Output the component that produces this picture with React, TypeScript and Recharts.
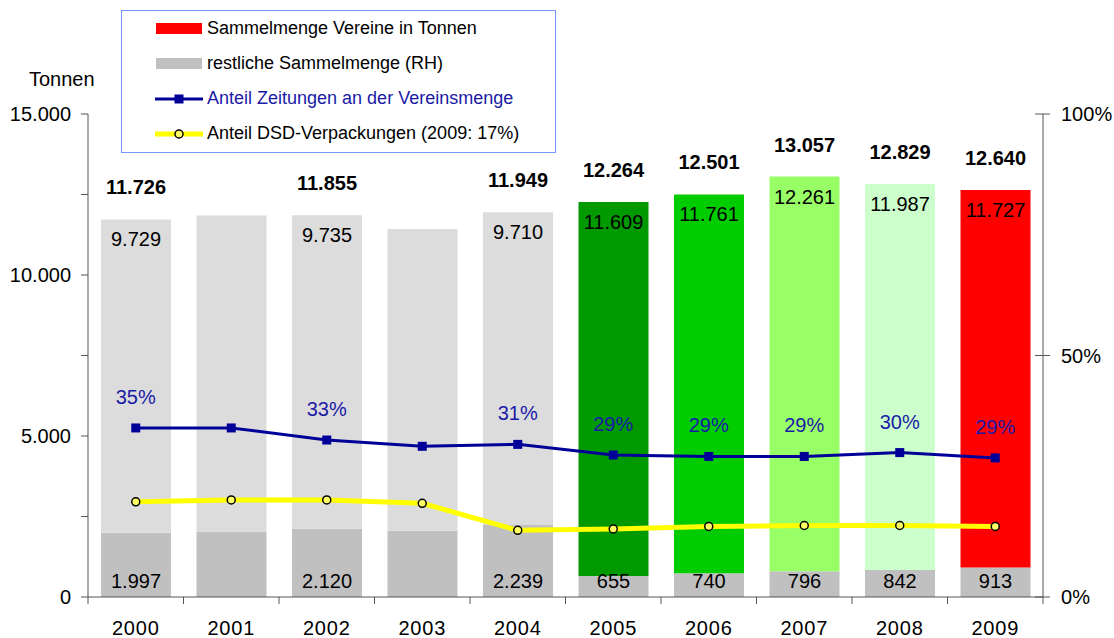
import React from 'react';
import { Bar, Cell, ComposedChart, LabelList, Legend, Line, XAxis, YAxis } from 'recharts';

const FONT = '"Liberation Sans", Arial, Helvetica, sans-serif';
const AXIS = '#555555';
const BLUE = '#000099';
const BLUE_TEXT = '#1a1aa6';

// Sammelmengen in Tonnen
const years = ['2000', '2001', '2002', '2003', '2004', '2005', '2006', '2007', '2008', '2009'];
const restMenge = [1997, 2030, 2120, 2060, 2239, 655, 740, 796, 842, 913];
const vereinsMenge = [9729, 9820, 9735, 9370, 9710, 11609, 11761, 12261, 11987, 11727];
const gesamtMenge = [11726, null, 11855, null, 11949, 12264, 12501, 13057, 12829, 12640];
const beschriftet = [true, false, true, false, true, true, true, true, true, true];
const vereinsFarben = ['#dcdcdc', '#dcdcdc', '#dcdcdc', '#dcdcdc', '#dcdcdc', '#009900', '#00cc00', '#99ff66', '#ccffcc', '#ff0000'];

// Anteile in Prozent (rechte Achse)
const zeitungenAnteil = [35.0, 35.0, 32.5, 31.2, 31.6, 29.4, 29.1, 29.1, 29.9, 28.8];
const zeitungenLabel = ['35%', '', '33%', '', '31%', '29%', '29%', '29%', '30%', '29%'];
const dsdAnteil = [19.7, 20.1, 20.1, 19.4, 13.8, 14.1, 14.6, 14.8, 14.8, 14.6];

const tonnenTicks = [0, 2500, 5000, 7500, 10000, 12500, 15000];
const prozentTicks = [0, 50, 100];

const legendLabels = [
  'Sammelmenge Vereine in Tonnen',
  'restliche Sammelmenge (RH)',
  'Anteil Zeitungen an der Vereinsmenge',
  'Anteil DSD-Verpackungen (2009: 17%)',
];

const data = years.map((year, i) => ({
  year,
  rest: restMenge[i],
  vereine: vereinsMenge[i],
  gesamt: gesamtMenge[i],
  zeitungen: zeitungenAnteil[i],
  zeitungenLabel: zeitungenLabel[i],
  dsd: dsdAnteil[i],
}));

const fmt = (n: number) => String(n).replace(/\B(?=(\d{3})+(?!\d))/g, '.');

const box = (p: any) => {
  const vb = p.viewBox || {};
  return {
    x: vb.x ?? p.x,
    y: vb.y ?? p.y,
    width: vb.width ?? p.width ?? 0,
    height: vb.height ?? p.height ?? 0,
  };
};

const LeftTick = (props: any) => {
  const { x, y, payload } = props;
  const v = payload.value as number;
  return (
    <g>
      <line x1={x - 7} x2={x} y1={y} y2={y} stroke={AXIS} />
      {v % 5000 === 0 && (
        <text x={x - 17} y={y + 7} textAnchor="end" fontSize={20} fill="#000" fontFamily={FONT}>
          {fmt(v)}
        </text>
      )}
    </g>
  );
};

const RightTick = (props: any) => {
  const { x, y, payload } = props;
  return (
    <g>
      <line x1={x - 8} x2={x + 7} y1={y} y2={y} stroke={AXIS} />
      <text x={x + 18} y={y + 7} textAnchor="start" fontSize={20} fill="#000" fontFamily={FONT}>
        {payload.value}%
      </text>
    </g>
  );
};

const YearTick = (props: any) => {
  const { x, y, payload, index } = props;
  const half = payload.offset ?? 47.75;
  return (
    <g>
      <line x1={x - half} x2={x - half} y1={y} y2={y + 7} stroke={AXIS} />
      {index === years.length - 1 && <line x1={x + half} x2={x + half} y1={y} y2={y + 7} stroke={AXIS} />}
      <text x={x} y={y + 38} textAnchor="middle" fontSize={20} letterSpacing={0.8} fill="#000" fontFamily={FONT}>
        {payload.value}
      </text>
    </g>
  );
};

const TonnenLabel = (props: any) => {
  const vb = props.viewBox || { x: 0, y: 114 };
  return (
    <text x={vb.x + 29} y={vb.y - 28} fontSize={20} fill="#000" fontFamily={FONT}>
      Tonnen
    </text>
  );
};

const TotalLabel = (props: any) => {
  if (props.value == null) return null;
  const { x, y, width } = box(props);
  return (
    <text x={x + width / 2} y={y - 25} textAnchor="middle" fontSize={20} fontWeight="bold" fill="#000" fontFamily={FONT}>
      {fmt(props.value)}
    </text>
  );
};

const TopValueLabel = (props: any) => {
  if (!beschriftet[props.index]) return null;
  const { x, y, width } = box(props);
  return (
    <text x={x + width / 2} y={y + 27} textAnchor="middle" fontSize={20} fill="#000" fontFamily={FONT}>
      {fmt(props.value)}
    </text>
  );
};

const BottomValueLabel = (props: any) => {
  if (!beschriftet[props.index]) return null;
  const { x, y, width, height } = box(props);
  return (
    <text x={x + width / 2} y={y + height - 9} textAnchor="middle" fontSize={20} fill="#000" fontFamily={FONT}>
      {fmt(props.value)}
    </text>
  );
};

const PctLabel = (props: any) => {
  if (!props.value) return null;
  const { x, y } = box(props);
  return (
    <text x={x} y={y - 24} textAnchor="middle" fontSize={20} fill={BLUE_TEXT} fontFamily={FONT}>
      {props.value}
    </text>
  );
};

const SquareDot = (props: any) => {
  const { cx, cy } = props;
  if (cx == null || cy == null) return null;
  return <rect x={cx - 4.5} y={cy - 4.5} width={9} height={9} fill={BLUE} />;
};

const LegendIcon = ({ kind }: { kind: number }) => (
  <svg width={48} height={16} style={{ display: 'block', flex: 'none' }}>
    {kind === 0 && <rect x={1} y={2} width={46} height={11} fill="#ff0000" />}
    {kind === 1 && <rect x={1} y={2} width={46} height={11} fill="#c0c0c0" />}
    {kind === 2 && (
      <>
        <line x1={0} x2={48} y1={8} y2={8} stroke={BLUE} strokeWidth={3} />
        <rect x={19.5} y={3.5} width={9} height={9} fill={BLUE} />
      </>
    )}
    {kind === 3 && (
      <>
        <line x1={0} x2={48} y1={8} y2={8} stroke="#ffff00" strokeWidth={5} />
        <circle cx={24} cy={8} r={4} fill="#ffff66" stroke="#000" strokeWidth={1.5} />
      </>
    )}
  </svg>
);

const LegendBox = () => (
  <div style={{ fontFamily: FONT, fontSize: 18 }}>
    {legendLabels.map((label, i) => (
      <div key={label} style={{ display: 'flex', alignItems: 'center', height: 35, paddingLeft: 33 }}>
        <LegendIcon kind={i} />
        <span style={{ marginLeft: 4, color: i === 2 ? BLUE_TEXT : '#000', whiteSpace: 'nowrap' }}>{label}</span>
      </div>
    ))}
  </div>
);

export default function App() {
  return (
    <div style={{ position: 'relative', width: 1114, height: 638, fontFamily: FONT, background: '#fff' }}>
      <style>{'body{margin:0}'}</style>
      <ComposedChart width={1114} height={638} data={data} margin={{ top: 114, right: 0, bottom: 0, left: 0 }}>
        <XAxis
          dataKey="year"
          height={41}
          interval={0}
          tickSize={0}
          tickMargin={0}
          tickLine={false}
          tick={<YearTick />}
          axisLine={{ stroke: AXIS }}
        />
        <YAxis
          yAxisId="t"
          width={88}
          domain={[0, 15000]}
          ticks={tonnenTicks}
          interval={0}
          tickSize={0}
          tickMargin={0}
          tickLine={false}
          tick={<LeftTick />}
          axisLine={{ stroke: AXIS }}
          label={<TonnenLabel />}
        />
        <YAxis
          yAxisId="p"
          orientation="right"
          width={71}
          domain={[0, 100]}
          ticks={prozentTicks}
          interval={0}
          tickSize={0}
          tickMargin={0}
          tickLine={false}
          tick={<RightTick />}
          axisLine={{ stroke: AXIS }}
        />
        <Legend
          layout="vertical"
          align="center"
          verticalAlign="middle"
          content={<LegendBox />}
          wrapperStyle={{
            left: 121,
            top: 10,
            width: 435,
            height: 143,
            border: '1px solid #7896ff',
            boxSizing: 'border-box',
            background: '#fff',
          }}
        />
        <Bar yAxisId="t" dataKey="rest" stackId="menge" fill="#c0c0c0" barSize={70} isAnimationActive={false}>
          <LabelList dataKey="rest" content={<BottomValueLabel />} />
        </Bar>
        <Bar yAxisId="t" dataKey="vereine" stackId="menge" barSize={70} isAnimationActive={false}>
          {data.map((_, i) => (
            <Cell key={i} fill={vereinsFarben[i]} />
          ))}
          <LabelList dataKey="vereine" content={<TopValueLabel />} />
          <LabelList dataKey="gesamt" content={<TotalLabel />} />
        </Bar>
        <Line
          yAxisId="p"
          type="linear"
          dataKey="zeitungen"
          stroke={BLUE}
          strokeWidth={3}
          dot={<SquareDot />}
          activeDot={false}
          isAnimationActive={false}
        >
          <LabelList dataKey="zeitungenLabel" content={<PctLabel />} />
        </Line>
        <Line
          yAxisId="p"
          type="linear"
          dataKey="dsd"
          stroke="#ffff00"
          strokeWidth={5}
          dot={{ r: 4, fill: '#ffff66', stroke: '#000', strokeWidth: 1.5 }}
          activeDot={false}
          isAnimationActive={false}
        />
      </ComposedChart>
    </div>
  );
}
